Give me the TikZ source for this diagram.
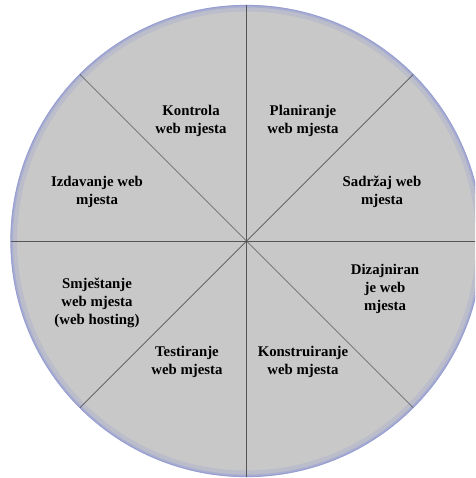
\documentclass[tikz,border=0pt]{standalone}
\usepackage{fontspec}
\setmainfont{Liberation Serif}
\usetikzlibrary{calc}
\definecolor{discgray}{RGB}{200,200,200}
\definecolor{rimblue}{RGB}{150,158,212}
\definecolor{spokegray}{RGB}{85,85,85}
\tikzset{
  spoke/.style={draw=spokegray, line width=0.7pt},
  phase/.style={align=center, text=black, inner sep=1pt,
    font=\bfseries\fontsize{14.8}{18.3}\selectfont}
}

\begin{document}
\begin{tikzpicture}[x=1pt, y=-1pt]
  \useasboundingbox (0,0) rectangle (475,478);
  \clip (0,0) rectangle (475,478);
  \coordinate (c) at (246.5,241);
  % the disc
  \fill[discgray] (c) circle (236);
  \draw[rimblue!25!discgray, line width=5pt] (c) circle (232);
  \draw[rimblue!60!discgray, line width=2pt] (c) circle (234.5);
  \draw[rimblue, line width=1pt] (c) circle (235.6);
  % spokes
  \foreach \a in {0,45,...,315}
    \coordinate (rim\a) at ($(c)+(\a:235.5)$);
  \foreach \a in {0,45,...,315}
    \draw[spoke] (c) -- (rim\a);
  % phases
  \node[phase] (kontrola)     at (191,121) {Kontrola\\web mjesta};
  \node[phase] (planiranje)   at (303,121) {Planiranje\\web mjesta};
  \node[phase] (sadrzaj)      at (382,192) {Sadržaj web\\mjesta};
  \node[phase] (dizajn)       at (385,289) {Dizajniran\\je web\\mjesta};
  \node[phase] (konstrukcija) at (303,362) {Konstruiranje\\web mjesta};
  \node[phase] (testiranje)   at (187,362) {Testiranje\\web mjesta};
  \node[phase] (smjestanje)   at (97,303)  {Smještanje\\web mjesta\\(web hosting)};
  \node[phase] (izdavanje)    at (97,192)  {Izdavanje web\\mjesta};
\end{tikzpicture}
\end{document}
